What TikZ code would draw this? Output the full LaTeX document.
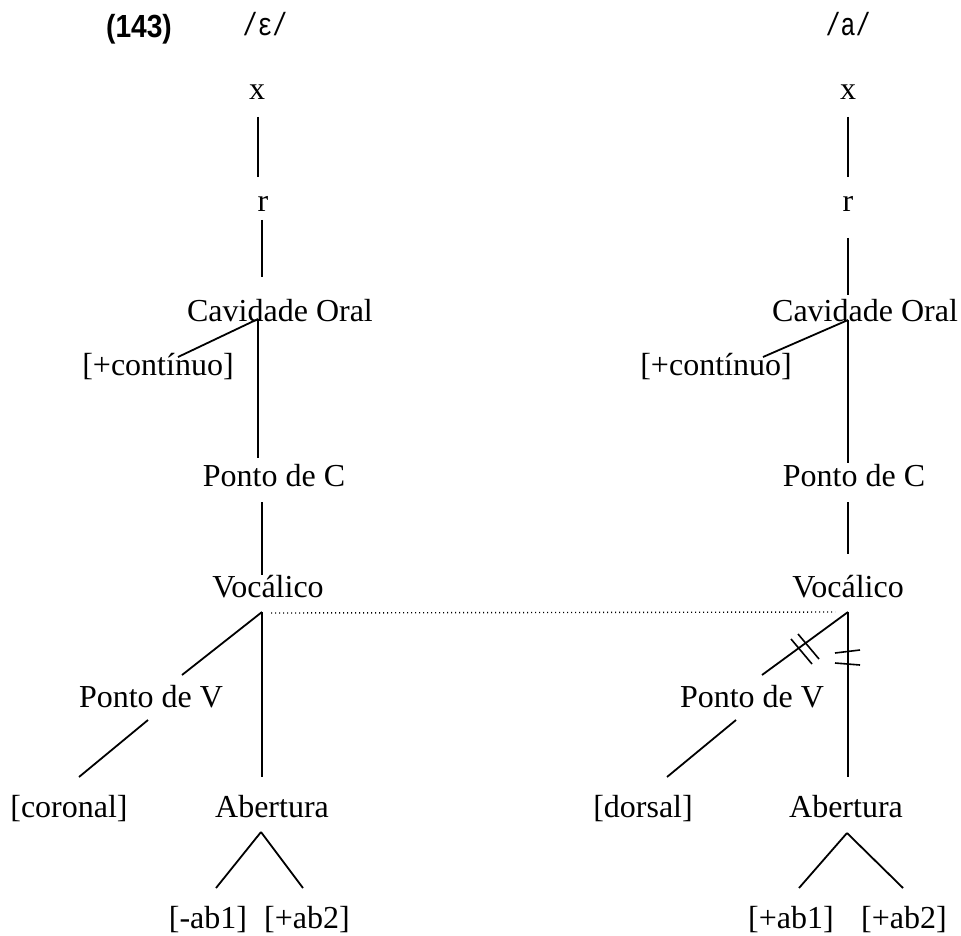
\documentclass[tikz,border=0pt]{standalone}
\usepackage{fontspec}
\setmainfont{Liberation Serif}
\newfontfamily\numfont{Liberation Sans}
\newfontfamily\ipafont{Liberation Mono}
\begin{document}
\begin{tikzpicture}[x=0.5pt,y=-0.5pt,
  lbl/.style={anchor=base,inner sep=0pt,font=\fontsize{16}{19}\selectfont},
  edge/.style={line width=0.9pt},
  tick/.style={line width=0.8pt},
  assoc/.style={line width=0.7pt,dash pattern=on 0.6pt off 1.4pt}]
\useasboundingbox (0,0) rectangle (961,935);
% headers
\node[anchor=base,inner sep=0pt,font=\numfont\bfseries\fontsize{16}{18}\selectfont] (num) at (139,38) {\scalebox{0.88}[1]{(143)}};
\node[anchor=base,inner sep=0pt,font=\ipafont\fontsize{16}{18}\selectfont] (Leps) at (265,36) {\scalebox{0.78}[1]{/ε/}};
\node[anchor=base,inner sep=0pt,font=\ipafont\fontsize{16}{18}\selectfont] (Ra) at (848,36) {\scalebox{0.78}[1]{/a/}};
% left tree
\node[lbl] (Lx) at (257,100) {x};
\node[lbl] (Lr) at (263,212) {r};
\node[lbl] (Lcav) at (280,321) {Cavidade Oral};
\node[lbl] (Lcont) at (158,375) {[+contínuo]};
\node[lbl] (LpC) at (274,486) {Ponto de C};
\node[lbl] (Lvoc) at (268,597) {Vocálico};
\node[lbl] (LpV) at (151,707) {Ponto de V};
\node[lbl] (Lcor) at (69,817) {[coronal]};
\node[lbl] (Lab) at (272,817) {Abertura};
\node[lbl] (Lab1) at (208,928) {[-ab1]};
\node[lbl] (Lab2) at (307,928) {[+ab2]};
% right tree
\node[lbl] (Rx) at (848,100) {x};
\node[lbl] (Rr) at (848,212) {r};
\node[lbl] (Rcav) at (865,321) {Cavidade Oral};
\node[lbl] (Rcont) at (716,375) {[+contínuo]};
\node[lbl] (RpC) at (854,486) {Ponto de C};
\node[lbl] (Rvoc) at (848,597) {Vocálico};
\node[lbl] (RpV) at (752,707) {Ponto de V};
\node[lbl] (Rdor) at (643,817) {[dorsal]};
\node[lbl] (Rab) at (846,817) {Abertura};
\node[lbl] (Rab1) at (791,928) {[+ab1]};
\node[lbl] (Rab2) at (904,928) {[+ab2]};
% connector end points, left
\coordinate (Lxb) at (258,117); \coordinate (Lrt) at (258,177);
\coordinate (Lrb) at (262,220); \coordinate (Lcavt) at (262,277);
\coordinate (Lcavb) at (258,319); \coordinate (Lcontt) at (178,357);
\coordinate (LpCt) at (258,458);
\coordinate (LpCb) at (262,502); \coordinate (Lvoct) at (262,575);
\coordinate (Lvocb) at (262,612); \coordinate (LpVt) at (182,675);
\coordinate (Labt) at (262,777);
\coordinate (LpVb) at (148,720); \coordinate (Lcort) at (79,777);
\coordinate (Labb) at (261,832); \coordinate (Lab1t) at (216,888); \coordinate (Lab2t) at (303,888);
% connector end points, right
\coordinate (Rxb) at (848,117); \coordinate (Rrt) at (848,177);
\coordinate (Rrb) at (848,238); \coordinate (Rcavt) at (848,295);
\coordinate (Rcavb) at (848,320); \coordinate (Rcontt) at (763,357);
\coordinate (RpCt) at (848,463);
\coordinate (RpCb) at (848,502); \coordinate (Rvoct) at (848,554);
\coordinate (Rvocb) at (848,612); \coordinate (RpVt) at (762,675);
\coordinate (Rabt) at (848,777);
\coordinate (RpVb) at (736,720); \coordinate (Rdort) at (667,777);
\coordinate (Rabb) at (847,833); \coordinate (Rab1t) at (799,888); \coordinate (Rab2t) at (903,888);
\coordinate (Ldot) at (271,613); \coordinate (Rdot) at (835,612);
% edges left
\draw[edge] (Lxb) -- (Lrt);
\draw[edge] (Lrb) -- (Lcavt);
\draw[edge] (Lcavb) -- (Lcontt);
\draw[edge] (Lcavb) -- (LpCt);
\draw[edge] (LpCb) -- (Lvoct);
\draw[edge] (Lvocb) -- (LpVt);
\draw[edge] (Lvocb) -- (Labt);
\draw[edge] (LpVb) -- (Lcort);
\draw[edge] (Labb) -- (Lab1t);
\draw[edge] (Labb) -- (Lab2t);
% edges right
\draw[edge] (Rxb) -- (Rrt);
\draw[edge] (Rrb) -- (Rcavt);
\draw[edge] (Rcavb) -- (Rcontt);
\draw[edge] (Rcavb) -- (RpCt);
\draw[edge] (RpCb) -- (Rvoct);
\draw[edge] (Rvocb) -- (RpVt);
\draw[edge] (Rvocb) -- (Rabt);
\draw[edge] (RpVb) -- (Rdort);
\draw[edge] (Rabb) -- (Rab1t);
\draw[edge] (Rabb) -- (Rab2t);
% association line
\draw[assoc] (Ldot) -- (Rdot);
% delinking marks
\draw[tick] (791,639) -- (812,664);
\draw[tick] (798,634) -- (819,659);
\draw[tick] (835,653) -- (860,650);
\draw[tick] (835,663) -- (860,665);
\end{tikzpicture}
\end{document}
